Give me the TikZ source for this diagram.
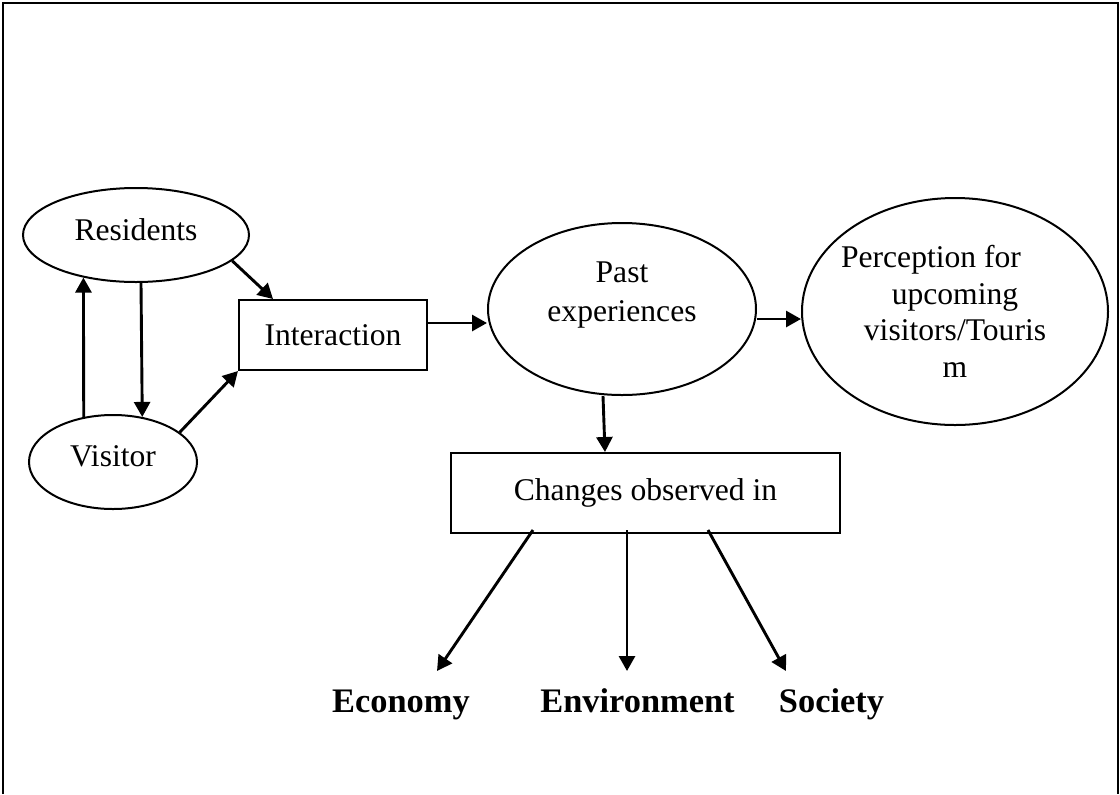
\documentclass[tikz,border=0pt]{standalone}
\usepackage{fontspec}
\setmainfont{Liberation Serif}
\usetikzlibrary{shapes.geometric,arrows.meta}
\begin{document}
\begin{tikzpicture}[x=0.5pt,y=-0.5pt,
  oval/.style={draw, ellipse, line width=1pt, inner sep=0pt},
  box/.style={draw, rectangle, line width=1pt, inner sep=0pt,
    font=\fontsize{15.8pt}{18.3pt}\selectfont},
  txt/.style={font=\fontsize{15.8pt}{18.25pt}\selectfont, inner sep=0pt, align=center},
  boldlbl/.style={font=\fontsize{17.2pt}{20pt}\selectfont\bfseries, inner sep=0pt, anchor=base},
  arr/.style={line width=1.45pt, -{Triangle[length=7.5pt,width=8pt]}}]
\useasboundingbox (0,0) rectangle (1120,794);
% page frame
\draw[line width=1.3pt] (3,794) -- (3,3) -- (1118,3) -- (1118,794);

% actors
\node[oval, minimum width=113pt, minimum height=47pt] (res) at (136,235) {};
\node[txt] (resT) at (136,230) {Residents};
\node[oval, minimum width=84pt, minimum height=47pt] (vis) at (113,462) {};
\node[txt] (visT) at (113,456) {Visitor};
\node[box, minimum width=94pt, minimum height=35pt] (inter) at (333,335) {Interaction};

% experiences and perception
\node[oval, minimum width=134pt, minimum height=86pt] (past) at (622,309) {};
\node[txt] (pastT) at (622,295.4) {Past\\[1.2pt]experiences};
\node[oval, minimum width=153pt, minimum height=113.5pt] (perc) at (955,311.5) {};
\node[txt] (percT) at (955,311.25) {Perception for\makebox[24pt]{}\\upcoming\\visitors/Touris\\m};

% observed changes
\node[box, minimum width=194.5pt, minimum height=40pt] (chg) at (645.5,493) {Changes observed in};
\node[boldlbl] (econ) at (401,712) {Economy};
\node[boldlbl] (env) at (637.5,712) {Environment};
\node[boldlbl] (soc) at (831.5,712) {Society};

% connectors
\draw[arr] ([xshift=2.5pt]res.south) -- (vis.57.7);
\draw[arr] (vis.123.3) -- (res.219.4);
\draw[arr] (res.-15.6) -- ([xshift=-30pt]inter.north);
\draw[arr] (vis.24.8) -- (inter.south west);
\coordinate (ia) at ([yshift=6pt]inter.east);
\draw[arr] (ia) -- (ia -| past.west);
\coordinate (pa) at ([yshift=-5pt]past.east);
\draw[arr] (pa) -- (pa -| perc.west);
\draw[arr] ([xshift=-9.5pt]past.south) -- ([xshift=-20.25pt]chg.north);
\draw[arr] ([xshift=-56.25pt,yshift=2pt]chg.south) -- ([xshift=18pt,yshift=20.5pt]econ.base);
\draw[arr] ([xshift=-9.25pt,yshift=2pt]chg.south) -- ([xshift=-5.25pt,yshift=20.5pt]env.base);
\draw[arr] ([xshift=31.25pt,yshift=2pt]chg.south) -- ([xshift=-22.75pt,yshift=20.5pt]soc.base);
\end{tikzpicture}
\end{document}
